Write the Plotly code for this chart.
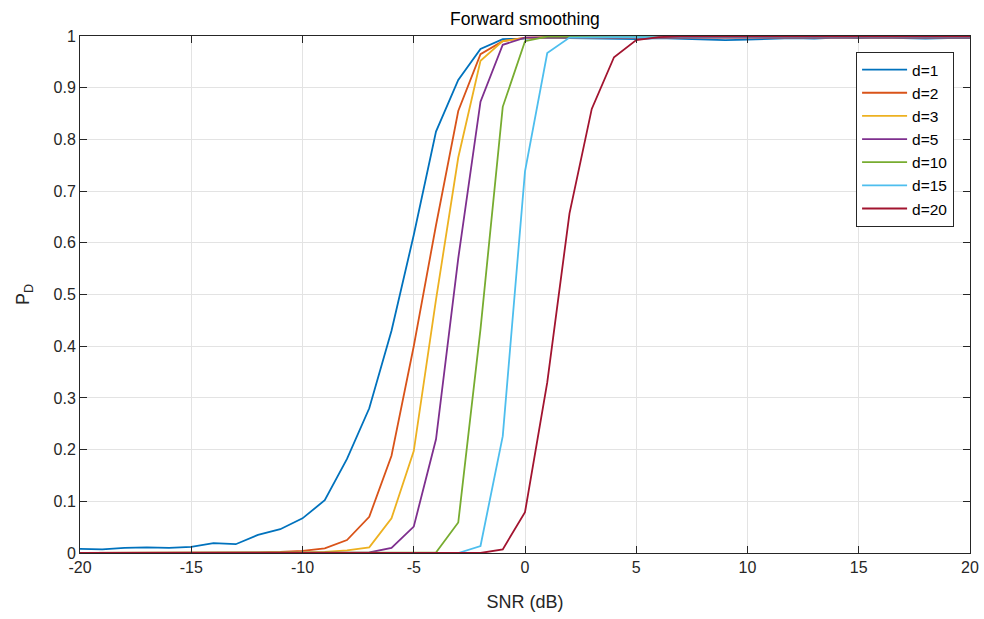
import plotly.graph_objects as go

# SNR grid (dB)
snr = [-20, -19, -18, -17, -16, -15, -14, -13, -12, -11, -10,
       -9, -8, -7, -6, -5, -4, -3, -2, -1, 0,
       1, 2, 3, 4, 5, 6, 7, 8, 9, 10,
       11, 12, 13, 14, 15, 16, 17, 18, 19, 20]

# Detection probability for each smoothing delay d
pd_d1 = [0.008, 0.007, 0.010, 0.011, 0.010, 0.012, 0.019, 0.017, 0.035, 0.046, 0.067,
         0.102, 0.182, 0.280, 0.430, 0.615, 0.815, 0.915, 0.975, 0.994, 0.995,
         0.997, 0.996, 0.995, 0.995, 0.994, 0.996, 0.995, 0.994, 0.992, 0.993,
         0.995, 0.996, 0.995, 0.997, 0.996, 0.997, 0.996, 0.995, 0.996, 0.996]
pd_d2 = [0.0, 0.0, 0.0, 0.0, 0.0, 0.0, 0.0, 0.0, 0.001, 0.002, 0.004,
         0.009, 0.025, 0.070, 0.188, 0.400, 0.634, 0.855, 0.965, 0.990, 0.997,
         0.998, 0.998, 0.997, 0.998, 0.998, 0.997, 0.998, 0.998, 0.998, 0.997,
         0.998, 0.998, 0.997, 0.998, 0.998, 0.998, 0.997, 0.998, 0.998, 0.998]
pd_d3 = [0.0, 0.0, 0.0, 0.0, 0.0, 0.0, 0.0, 0.0, 0.0, 0.0, 0.001,
         0.002, 0.005, 0.011, 0.067, 0.197, 0.490, 0.765, 0.952, 0.990, 0.996,
         0.997, 0.997, 0.996, 0.997, 0.997, 0.996, 0.997, 0.997, 0.997, 0.996,
         0.997, 0.997, 0.996, 0.997, 0.997, 0.997, 0.996, 0.997, 0.997, 0.997]
pd_d5 = [0.0, 0.0, 0.0, 0.0, 0.0, 0.0, 0.0, 0.0, 0.0, 0.0, 0.0,
         0.0, 0.0, 0.001, 0.010, 0.051, 0.220, 0.570, 0.873, 0.983, 0.997,
         0.997, 0.998, 0.997, 0.997, 0.998, 0.997, 0.998, 0.997, 0.998, 0.997,
         0.998, 0.997, 0.998, 0.997, 0.998, 0.997, 0.998, 0.997, 0.998, 0.997]
pd_d10 = [0.0, 0.0, 0.0, 0.0, 0.0, 0.0, 0.0, 0.0, 0.0, 0.0, 0.0,
          0.0, 0.0, 0.0, 0.0, 0.0, 0.001, 0.059, 0.433, 0.863, 0.990,
          0.999, 0.999, 0.999, 0.999, 0.999, 0.999, 0.999, 0.999, 0.999, 0.999,
          0.999, 0.999, 0.999, 0.999, 0.999, 0.999, 0.999, 0.999, 0.999, 0.999]
pd_d15 = [0.0, 0.0, 0.0, 0.0, 0.0, 0.0, 0.0, 0.0, 0.0, 0.0, 0.0,
          0.0, 0.0, 0.0, 0.0, 0.0, 0.0, 0.0, 0.0135, 0.226, 0.738,
          0.967, 0.997, 0.998, 0.998, 0.998, 0.998, 0.998, 0.998, 0.998, 0.998,
          0.998, 0.998, 0.998, 0.998, 0.998, 0.998, 0.998, 0.998, 0.998, 0.998]
pd_d20 = [0.0, 0.0, 0.0, 0.0, 0.0, 0.0, 0.0, 0.0, 0.0, 0.0, 0.0,
          0.0, 0.0, 0.0, 0.0, 0.0, 0.0, 0.0, 0.0, 0.007, 0.079,
          0.330, 0.657, 0.859, 0.959, 0.992, 0.998, 0.999, 0.999, 0.999, 0.999,
          0.999, 0.999, 0.999, 0.999, 0.999, 0.999, 0.999, 0.999, 0.999, 0.999]

series_names = ["d=1", "d=2", "d=3", "d=5", "d=10", "d=15", "d=20"]
series_values = [pd_d1, pd_d2, pd_d3, pd_d5, pd_d10, pd_d15, pd_d20]
colors = ["#0072BD", "#D95319", "#EDB120", "#7E2F8E", "#77AC30", "#4DBEEE", "#A2142F"]

x_ticks = [-20, -15, -10, -5, 0, 5, 10, 15, 20]
x_tick_labels = ["-20", "-15", "-10", "-5", "0", "5", "10", "15", "20"]
y_ticks = [0, 0.1, 0.2, 0.3, 0.4, 0.5, 0.6, 0.7, 0.8, 0.9, 1]
y_tick_labels = ["0", "0.1", "0.2", "0.3", "0.4", "0.5", "0.6", "0.7", "0.8", "0.9", "1"]

FONT = "Liberation Sans, Arial, Helvetica, sans-serif"
AXIS_COLOR = "#262626"

fig = go.Figure()
for name, vals, col in zip(series_names, series_values, colors):
    fig.add_trace(go.Scatter(x=snr, y=vals, mode="lines", name=name,
                             line=dict(color=col, width=1.8)))

axis_common = dict(
    showline=True, linecolor=AXIS_COLOR, linewidth=1, mirror="allticks",
    ticks="inside", ticklen=7, tickcolor=AXIS_COLOR, tickwidth=1,
    showgrid=True, gridcolor="#e3e3e3", gridwidth=1, zeroline=False,
    automargin=False,
    tickfont=dict(family=FONT, size=16, color=AXIS_COLOR),
)

fig.update_layout(
    width=984, height=619,
    margin=dict(l=80, r=14, t=36, b=66),
    paper_bgcolor="white", plot_bgcolor="white",
    title=dict(text="Forward smoothing", x=0.5335, xanchor="center",
               y=0.97, yanchor="middle",
               font=dict(family=FONT, size=17.5, color="#000000")),
    xaxis=dict(range=[-20, 20], tickvals=x_ticks, ticktext=x_tick_labels,
               title=dict(text="SNR (dB)", standoff=20,
                          font=dict(family=FONT, size=18, color=AXIS_COLOR)),
               **axis_common),
    yaxis=dict(range=[0, 1], tickvals=y_ticks, ticktext=y_tick_labels,
               title=dict(text="P<sub>D</sub>", standoff=19,
                          font=dict(family=FONT, size=18, color=AXIS_COLOR)),
               **axis_common),
    legend=dict(x=0.872, y=0.969, xanchor="left", yanchor="top",
                bgcolor="white", bordercolor=AXIS_COLOR, borderwidth=1,
                font=dict(family=FONT, size=15.5, color="#000000"),
                itemwidth=45, tracegroupgap=0),
    showlegend=True,
)

fig.write_html("out.html")
